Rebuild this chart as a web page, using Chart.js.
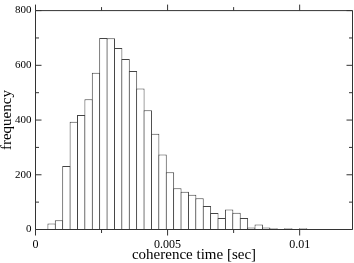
<!DOCTYPE html>
<html>
<head>
<meta charset="utf-8">
<script src="https://cdn.jsdelivr.net/npm/chart.js@4.4.1/dist/chart.umd.min.js"></script>
<style>
  html, body { margin: 0; padding: 0; background: #fff; }
  canvas { display: block; }
</style>
</head>
<body>
<canvas id="histChart" width="354" height="263"></canvas>
<script>
// histogram of coherence times, bins of equal width
const binStart = 0.00047;
const binWidth = 0.00028;
const counts = [22, 34, 232, 394, 418, 476, 573, 700, 699, 663, 623, 579, 515, 436, 350, 274, 209, 151,
  138, 127, 114, 86, 60, 42, 73, 61, 42, 7, 18, 7, 5, 1, 5, 1, 5];
const binCenters = counts.map((_, i) => binStart + binWidth * (i + 0.5));

const xTicks = [0, 0.005, 0.01];
const xTickLabels = ['0', '0.005', '0.01'];
const xMinorTicks = [0.0025, 0.0075];
const yTicks = [0, 200, 400, 600, 800];
const yTickLabels = ['0', '200', '400', '600', '800'];
const yMinorTicks = [100, 300, 500, 700];

const serif = 'Liberation Serif, Times New Roman, serif';

// box around the plot, ticks like the grace original
const framePlugin = {
  id: 'frame',
  afterDatasetsDraw(chart) {
    const { ctx, chartArea: a, scales: { x, y } } = chart;
    const major = 6, minor = 3.5;
    ctx.save();
    ctx.strokeStyle = '#333';
    ctx.lineWidth = 1;
    ctx.beginPath();
    ctx.rect(a.left, a.top, a.right - a.left, a.bottom - a.top);
    const xMark = (v, len) => {
      const px = x.getPixelForValue(v);
      ctx.moveTo(px, a.bottom); ctx.lineTo(px, a.bottom + len);
      ctx.moveTo(px, a.top); ctx.lineTo(px, a.top - len);
    };
    const yMark = (v, len) => {
      const py = y.getPixelForValue(v);
      ctx.moveTo(a.left, py); ctx.lineTo(a.left + len, py);
      ctx.moveTo(a.right, py); ctx.lineTo(a.right - len, py);
    };
    xTicks.forEach(v => xMark(v, major));
    xMinorTicks.forEach(v => xMark(v, minor));
    yTicks.forEach(v => yMark(v, major));
    yMinorTicks.forEach(v => yMark(v, minor));
    ctx.stroke();
    ctx.restore();
  }
};

const ctx = document.getElementById('histChart').getContext('2d');
new Chart(ctx, {
  type: 'bar',
  data: {
    datasets: [{
      data: binCenters.map((c, i) => ({ x: c, y: counts[i] })),
      backgroundColor: '#fff',
      borderColor: '#444',
      borderWidth: 1,
      borderSkipped: 'start',
      categoryPercentage: 1,
      barPercentage: 1.135 // a bit wider so neighbouring borders overlap into one line
    }]
  },
  options: {
    responsive: false,
    animation: false,
    layout: { padding: { top: 7.5, right: 1.5 } },
    plugins: { legend: { display: false }, tooltip: { enabled: false } },
    scales: {
      x: {
        type: 'linear',
        min: 0,
        max: 0.012,
        offset: false,
        grid: { display: false, drawTicks: false },
        border: { display: false },
        afterBuildTicks: (s) => { s.ticks = xTicks.map(v => ({ value: v })); },
        afterFit: (s) => { s.height = 33.5; },
        ticks: {
          autoSkip: false,
          maxRotation: 0,
          padding: 8,
          color: '#000',
          font: { family: serif, size: 12 },
          callback: (v, i) => xTickLabels[i]
        },
        title: {
          display: true,
          text: 'coherence time [sec]',
          color: '#000',
          padding: 0,
          font: { family: serif, size: 15, lineHeight: 1 }
        }
      },
      y: {
        min: 0,
        max: 800,
        grid: { display: false, drawTicks: false },
        border: { display: false },
        afterBuildTicks: (s) => { s.ticks = yTicks.map(v => ({ value: v })); },
        afterFit: (s) => { s.width = 35.5; },
        ticks: {
          autoSkip: false,
          padding: 4,
          color: '#000',
          font: { family: serif, size: 11 },
          callback: (v, i) => yTickLabels[i]
        },
        title: {
          display: true,
          text: 'frequency',
          color: '#000',
          padding: 0,
          font: { family: serif, size: 15, lineHeight: 1 }
        }
      }
    }
  },
  plugins: [framePlugin]
});
</script>
</body>
</html>
